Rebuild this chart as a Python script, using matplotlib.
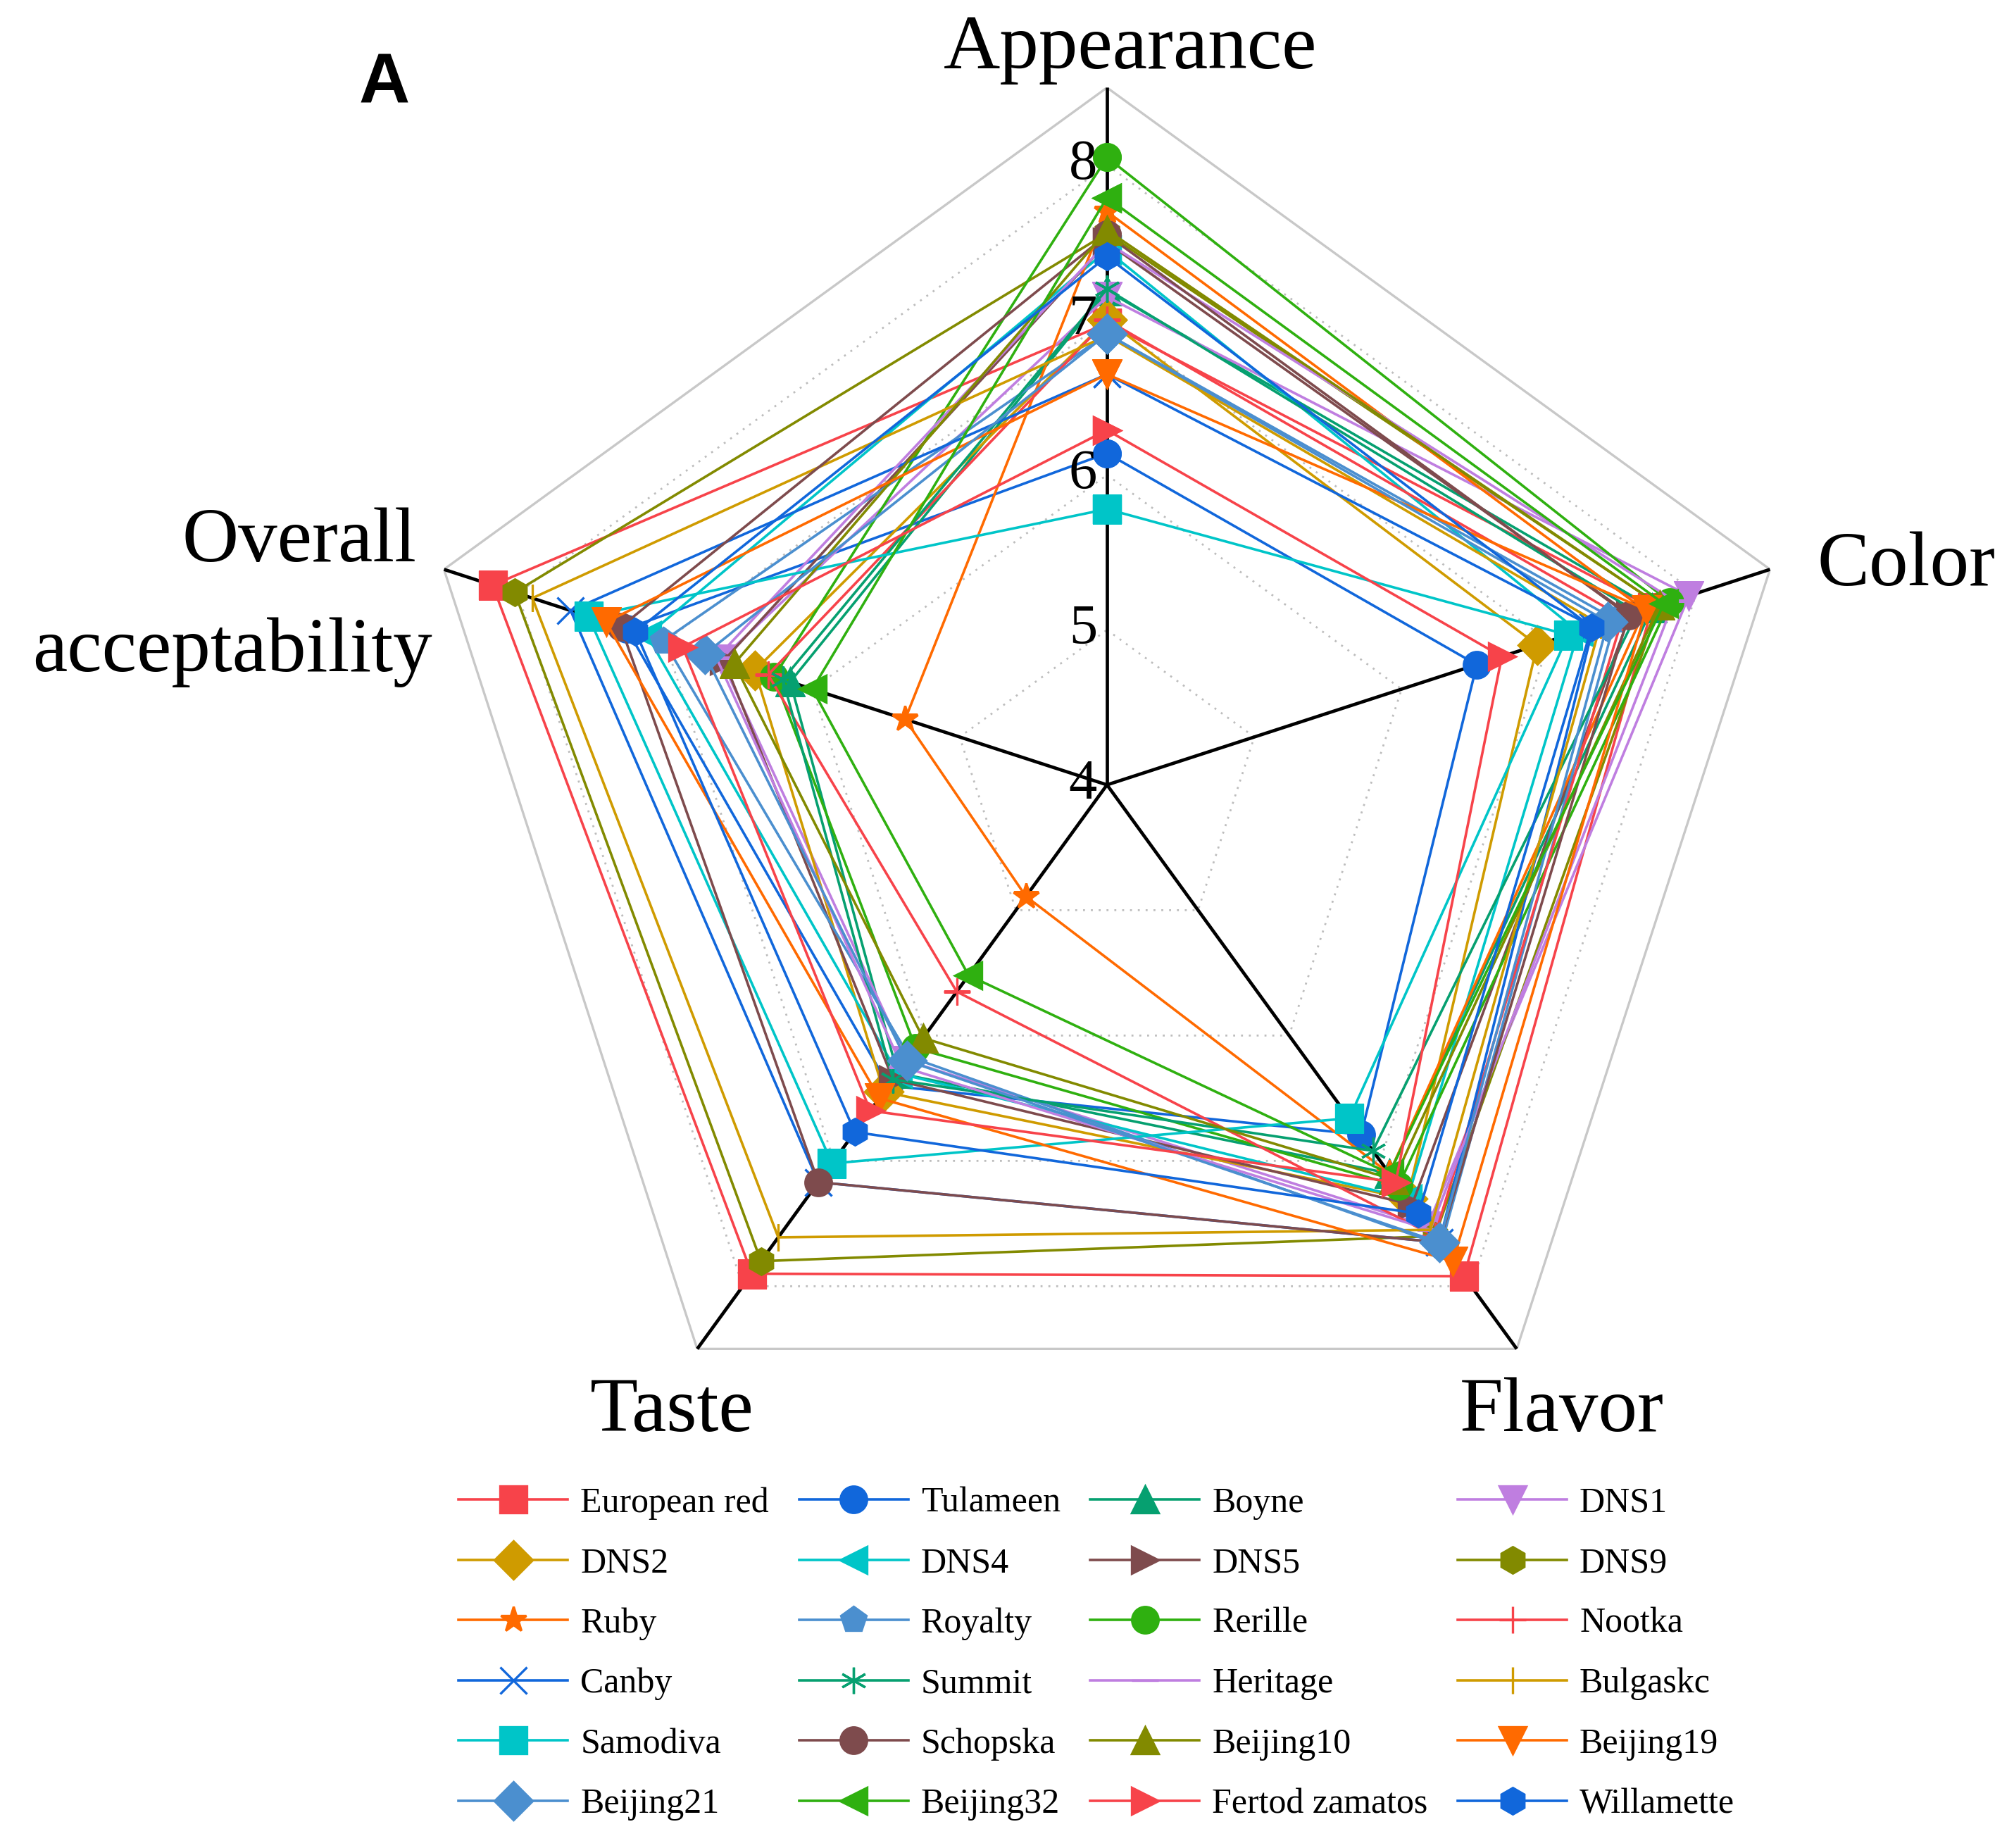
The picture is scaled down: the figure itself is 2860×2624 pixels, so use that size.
import numpy as np
import matplotlib.pyplot as plt

plt.rcParams['font.family'] = ['Liberation Serif', 'DejaVu Serif']

attributes = ['Appearance', 'Color', 'Flavor', 'Taste', 'Overall acceptability']
ticks = [4, 5, 6, 7, 8]

varieties = ['European red', 'Tulameen', 'Boyne', 'DNS1',
             'DNS2', 'DNS4', 'DNS5', 'DNS9',
             'Ruby', 'Royalty', 'Rerille', 'Nootka',
             'Canby', 'Summit', 'Heritage', 'Bulgaskc',
             'Samodiva', 'Schopska', 'Beijing10', 'Beijing19',
             'Beijing21', 'Beijing32', 'Fertod zamatos', 'Willamette']

appearance = [6.98, 6.14, 7.19, 7.15, 7.0, 7.45, 7.5, 7.56, 7.7, 6.91, 8.05, 7.0,
              6.65, 7.2, 7.5, 6.9, 5.78, 7.55, 7.58, 6.65, 6.91, 7.79, 6.29, 7.41]
color = [7.7, 6.51, 7.7, 7.95, 6.92, 7.2, 7.55, 7.75, 7.65, 7.45, 7.82, 7.5,
         7.3, 7.6, 7.85, 7.35, 7.13, 7.54, 7.75, 7.66, 7.4, 7.78, 6.68, 7.29]
flavor = [7.92, 6.79, 7.1, 7.52, 7.3, 7.3, 7.35, 7.6, 7.1, 7.67, 7.2, 7.6,
          7.65, 6.92, 7.55, 7.55, 6.66, 7.65, 7.15, 7.8, 7.65, 7.1, 7.17, 7.42]
taste = [7.9, 6.4, 6.3, 6.2, 6.45, 6.3, 6.35, 7.8, 4.89, 6.17, 6.1, 5.65,
         7.17, 6.35, 6.25, 7.61, 7.02, 7.17, 6.02, 6.5, 6.2, 5.52, 6.6, 6.77]
overall = [8.17, 7.26, 6.15, 6.62, 6.39, 7.12, 6.6, 8.02, 5.37, 7.01, 6.26, 6.3,
           7.64, 6.2, 6.65, 7.9, 7.52, 7.3, 6.53, 7.4, 6.73, 6.0, 6.88, 7.2]

# origin-like colour cycle (11 colours) and symbol cycle
palette = ['#F7434A', '#1167DB', '#06A070', '#BF7EE0', '#CF9B00', '#00C5C8',
           '#7E4B4D', '#828A00', '#FF6A00', '#4B8FCF', '#2FB010']
symbols = ['s', 'o', '^', 'v', 'D', '<', '>', 'h', '*', 'p', 'o', '+',
           'x', (6, 2, 0), '_', '|', 's', 'o', '^', 'v', 'D', '<', '>', 'h']

rmin, rmax = 4, 8.5
theta = np.deg2rad(np.arange(5) * 72)
theta_closed = np.append(theta, theta[0])

fig = plt.figure(figsize=(14.3, 13.12), dpi=200)
ax = fig.add_axes([0.2035, 0.198, 0.6923, 0.7546], projection='polar')
ax.set_theta_offset(np.pi / 2)
ax.set_theta_direction(-1)
ax.set_ylim(rmin, rmax)
ax.set_axis_off()

# pentagon grid
ax.plot(theta_closed, [rmax] * 6, color='#C8C8C8', lw=1.2, zorder=0)
for t in ticks[1:]:
    ax.plot(theta_closed, [t] * 6, color='#BDBDBD', lw=1.0,
            linestyle=(0, (1, 3)), zorder=0)
for th in theta:
    ax.plot([th, th], [rmin, rmax], color='black', lw=1.7, zorder=1)

lines = []
for i, name in enumerate(varieties):
    vals = [appearance[i], color[i], flavor[i], taste[i], overall[i]]
    vals.append(vals[0])
    c = palette[i % len(palette)]
    ln, = ax.plot(theta_closed, vals, color=c, lw=1.3, marker=symbols[i],
                  markersize=13.5, markerfacecolor=c, markeredgecolor=c,
                  markeredgewidth=1.2, label=name, zorder=2 + i * 0.01)
    lines.append(ln)

# tick labels along the Appearance axis
for t in ticks:
    ax.annotate(str(t), xy=(0, t), xytext=(-5, 0), textcoords='offset points',
                ha='right', va='center', fontsize=29)

# axis titles
ax.annotate('Appearance', xy=(theta[0], rmax), xytext=(12, 10),
            textcoords='offset points', ha='center', va='baseline', fontsize=40)
ax.annotate('Color', xy=(theta[1], rmax), xytext=(24, -8),
            textcoords='offset points', ha='left', va='baseline', fontsize=40)
ax.annotate('Flavor', xy=(theta[2], rmax), xytext=(23, -42),
            textcoords='offset points', ha='center', va='baseline', fontsize=40)
ax.annotate('Taste', xy=(theta[3], rmax), xytext=(-13, -42),
            textcoords='offset points', ha='center', va='baseline', fontsize=40)
ax.annotate('Overall', xy=(theta[4], rmax), xytext=(-14, 4),
            textcoords='offset points', ha='right', va='baseline', fontsize=40)
ax.annotate('acceptability', xy=(theta[4], rmax), xytext=(-6, -52),
            textcoords='offset points', ha='right', va='baseline', fontsize=40)

fig.text(0.178, 0.944, 'A', fontsize=36, fontweight='bold',
         family='Liberation Sans', ha='left', va='baseline')

# legend laid out row by row, 4 columns
order = [r * 4 + c for c in range(4) for r in range(6)]
fig.legend([lines[k] for k in order], [varieties[k] for k in order],
           ncol=4, loc='center', bbox_to_anchor=(0.5445, 0.105),
           frameon=False, fontsize=18, handlelength=3.1, handletextpad=0.36,
           columnspacing=0.85, labelspacing=0.78, borderpad=0.2)

fig.savefig('out.png', dpi=200)
